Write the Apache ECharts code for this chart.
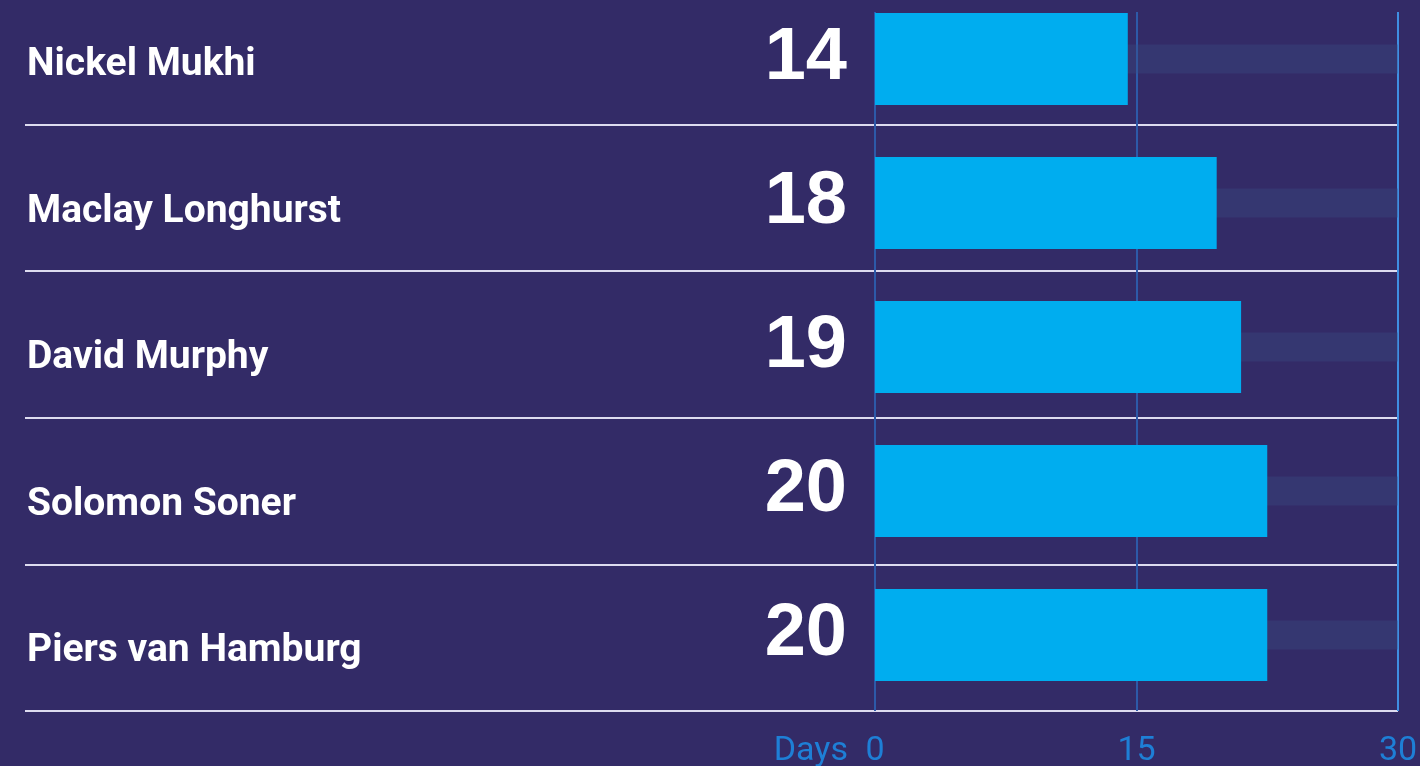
<!DOCTYPE html>
<html>
<head>
<meta charset="utf-8">
<style>
  html, body { margin: 0; padding: 0; background: #332b67; }
  #chart1 { width: 1420px; height: 766px; }
</style>
<script src="https://cdn.jsdelivr.net/npm/echarts@6/dist/echarts.min.js"></script>
</head>
<body>
<div id="chart1"></div>
<script>
var names = ['Nickel Mukhi', 'Maclay Longhurst', 'David Murphy', 'Solomon Soner', 'Piers van Hamburg'];
// the printed figures
var days = [14, 18, 19, 20, 20];
// bar lengths as drawn against the 0-30 scale (the graphic is not exact)
var barDays = [14.5, 19.6, 21, 22.5, 22.5];
var scaleMax = 30;
var tickStep = 15;
var track = names.map(function () { return scaleMax; });

var myChart = echarts.init(document.getElementById('chart1'));

var axisFont = 'Roboto, sans-serif';

option = {
  backgroundColor: '#332b67',
  animation: false,
  graphic: [
    {
      type: 'text',
      right: 572,
      top: 734,
      style: {
        text: 'Days',
        fill: '#1e7fd6',
        fontSize: 34,
        fontFamily: axisFont
      }
    }
  ],
  grid: [
    // rows with the separator lines and names
    { left: 25, right: 22, top: -22, bottom: 55, outerBoundsMode: 'none' },
    // the bars
    { left: 875, right: 22, top: -13, bottom: 59, outerBoundsMode: 'none' },
    // the day scale (gridlines + tick labels)
    { left: 875, right: 22, top: 12, bottom: 55, outerBoundsMode: 'none' }
  ],
  xAxis: [
    { gridIndex: 0, type: 'value', show: false },
    { gridIndex: 1, type: 'value', min: 0, max: scaleMax, show: false },
    {
      gridIndex: 2,
      type: 'value',
      min: 0,
      max: scaleMax,
      interval: tickStep,
      axisLine: { show: false },
      axisTick: { show: false },
      splitLine: {
        show: true,
        lineStyle: { color: ['#2d5aa8', '#2d5aa8', '#3f8fe2'], width: 2 }
      },
      axisLabel: {
        color: '#1e7fd6',
        fontSize: 34,
        fontFamily: axisFont,
        margin: 23
      }
    }
  ],
  yAxis: [
    {
      gridIndex: 0,
      type: 'category',
      data: names,
      inverse: true,
      axisLine: { show: false },
      axisTick: { show: false },
      splitLine: { show: true, lineStyle: { color: '#dedcf0', width: 2 } },
      axisLabel: {
        inside: true,
        margin: 2,
        color: '#ffffff',
        fontSize: 39,
        fontWeight: 'bold',
        fontFamily: 'Roboto, sans-serif',
        verticalAlign: 'top',
        lineHeight: 28
      }
    },
    { gridIndex: 1, type: 'category', data: names, inverse: true, show: false },
    { gridIndex: 1, type: 'category', data: names, inverse: true, show: false },
    { gridIndex: 2, type: 'value', show: false }
  ],
  series: [
    {
      name: 'track',
      type: 'bar',
      xAxisIndex: 1,
      yAxisIndex: 2,
      data: track,
      barWidth: 29,
      silent: true,
      itemStyle: { color: 'rgba(56,76,132,0.35)' }
    },
    {
      name: 'Days',
      type: 'bar',
      xAxisIndex: 1,
      yAxisIndex: 1,
      data: barDays,
      barWidth: 92,
      itemStyle: { color: '#00adef' },
      label: {
        show: true,
        position: 'left',
        distance: 28,
        formatter: function (p) { return days[p.dataIndex]; },
        color: '#ffffff',
        fontSize: 74,
        fontWeight: 'bold',
        fontFamily: '"Liberation Sans", Arial, sans-serif'
      }
    }
  ]
};
myChart.setOption(option);
</script>
</body>
</html>
